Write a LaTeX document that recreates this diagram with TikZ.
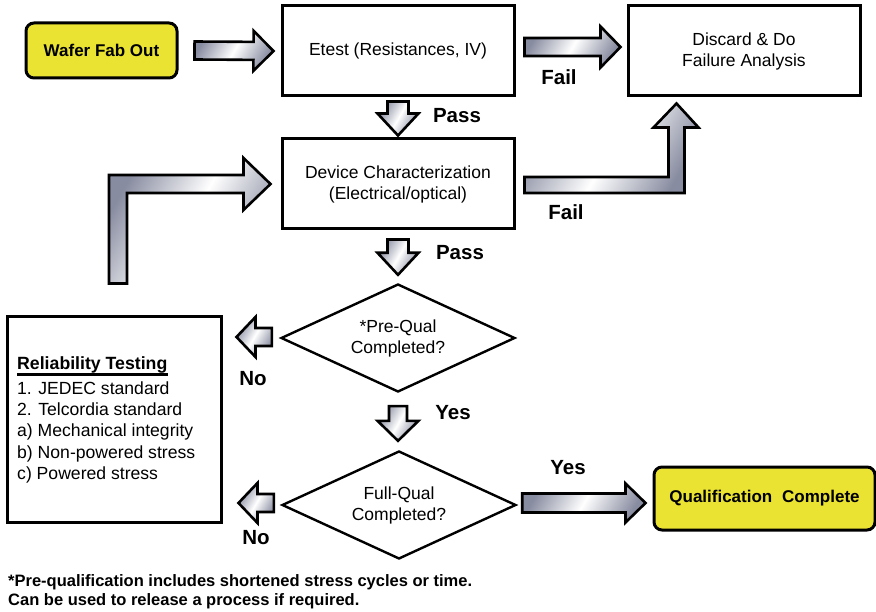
\documentclass[tikz,border=0pt]{standalone}
\usepackage{fontspec}
\setmainfont{Liberation Sans}
\usetikzlibrary{calc,shapes.geometric}

\definecolor{padyellow}{RGB}{234,227,50}
\definecolor{metal}{RGB}{136,140,160}

\tikzset{
  procbox/.style={draw, line width=3pt, minimum width=232pt, minimum height=90pt,
    inner sep=0pt, align=center, font=\fontsize{17.5}{21}\selectfont},
  termbox/.style={draw, line width=3pt, rounded corners=8pt, fill=padyellow,
    inner sep=0pt, align=center, font=\bfseries\fontsize{17}{21}\selectfont},
  decision/.style={draw, diamond, aspect=2.17, line width=2.4pt, minimum width=234pt,
    minimum height=108pt, inner sep=0pt, align=center, font=\fontsize{17.5}{21}\selectfont},
  listbox/.style={draw, line width=3pt, inner sep=0pt},
  listitem/.style={anchor=base west, inner sep=0pt, font=\fontsize{17.6}{21}\selectfont},
  flowlabel/.style={inner sep=0pt, font=\bfseries\fontsize{20.5}{24}\selectfont},
  notetext/.style={anchor=base west, inner sep=0pt, font=\bfseries\fontsize{16.5}{22}\selectfont},
  metalarrow/.style={draw, line width=2.6pt, line join=miter,
    left color=metal, right color=metal, middle color=white, shading angle=60}
}

% straight block arrow: tail, tip, shaft half-width, head half-width, head length
\newcommand\fatarrow[5]{%
  \coordinate (fahead) at ($(#2)!#5!(#1)$);
  \draw[metalarrow] ($(#1)!#3!90:(#2)$) -- ($(fahead)!#3!-90:(#1)$)
    -- ($(fahead)!#4!-90:(#1)$) -- (#2) -- ($(fahead)!#4!90:(#1)$)
    -- ($(fahead)!#3!90:(#1)$) -- ($(#1)!#3!-90:(#2)$) -- cycle;}

\begin{document}
\begin{tikzpicture}[x=1pt, y=-1pt]
  \fill[white] (0,0) rectangle (876,612);
  \useasboundingbox (0,0) rectangle (876,612);

  % process steps
  \node[termbox, minimum width=151pt, minimum height=55pt] (wafer) at (101.5,50.5) {Wafer Fab Out};
  \node[procbox] (etest) at (398,51) {Etest (Resistances, IV)};
  \node[procbox] (discard) at (744,51) {Discard \& Do\\Failure Analysis};
  \node[procbox] (device) at (398,184) {Device Characterization\\(Electrical/optical)};
  \node[decision] (prequal) at (398,338) {*Pre-Qual\\Completed?};
  \node[decision] (fullqual) at (399,505) {Full-Qual\\Completed?};
  \node[termbox, minimum width=221pt, minimum height=63pt] (qual) at (764.5,498.5) {Qualification\hspace{0.3em} Complete};

  % reliability test list
  \node[listbox, minimum width=214pt, minimum height=205pt] (relbox) at (114,419.5) {};
  \node[anchor=base west, inner sep=0pt, font=\bfseries\fontsize{17.7}{21}\selectfont]
    (reltitle) at (17,369.3) {Reliability Testing};
  \draw[line width=3.2pt] ($(reltitle.base west)+(0,5)$) -- ($(reltitle.base east)+(0,5)$);
  \foreach \t [count=\i] in {1. JEDEC standard, 2. Telcordia standard,
      a) Mechanical integrity, b) Non-powered stress, c) Powered stress}
    \node[listitem] (rel\i) at (17,{394.3+21.25*(\i-1)}) {\t};

  % arrow end points
  \coordinate (a1s) at ($(wafer.east)+(16,0)$);
  \coordinate (a1e) at ($(etest.west)+(-7,0)$);
  \coordinate (a2s) at ($(etest.east)+(9,-4)$);
  \coordinate (a2e) at ($(discard.west)+(-6,-4)$);
  \coordinate (p1s) at ($(etest.south)+(0,4)$);
  \coordinate (p1e) at ($(device.north)+(0,-2)$);
  \coordinate (p2s) at ($(device.south)+(0,9)$);
  \coordinate (p2e) at ($(prequal.north)+(0,-8)$);
  \coordinate (ys) at ($(prequal.south)+(0,13)$);
  \coordinate (ye) at ($(prequal.south |- fullqual.north)+(0,-9)$);
  \coordinate (n1s) at ($(prequal.west)+(-8,-1)$);
  \coordinate (n1e) at ($(relbox.east |- n1s)+(14,0)$);
  \coordinate (n2s) at ($(fullqual.west)+(-7,-2)$);
  \coordinate (n2e) at ($(relbox.east |- n2s)+(16,0)$);
  \coordinate (qs) at ($(fullqual.east)+(5,-2)$);
  \coordinate (qe) at ($(qual.west |- qs)+(-7,0)$);

  % straight block arrows
  \fatarrow{a1s}{a1e}{9pt}{20pt}{20pt}
  \fatarrow{a2s}{a2e}{9pt}{20.5pt}{20pt}
  \fatarrow{p1s}{p1e}{10.5pt}{20.5pt}{22pt}
  \fatarrow{p2s}{p2e}{10.5pt}{20.5pt}{22pt}
  \fatarrow{ys}{ye}{9pt}{20.5pt}{20pt}
  \fatarrow{n1s}{n1e}{9pt}{20pt}{19pt}
  \fatarrow{n2s}{n2e}{9pt}{20pt}{19pt}
  \fatarrow{qs}{qe}{9.5pt}{19.5pt}{20pt}

  % device fail: bent arrow up into the discard box
  \coordinate (f2s) at ($(device.east)+(9,1)$);
  \coordinate (f2e) at ($(discard.south west)+(50,6)$);
  \draw[metalarrow] ($(f2s)+(0,-8)$) -- ($(f2e |- f2s)+(-8,-8)$) -- ($(f2e)+(-8,24)$)
    -- ($(f2e)+(-23,24)$) -- (f2e) -- ($(f2e)+(22,24)$) -- ($(f2e)+(8,24)$)
    -- ($(f2e |- f2s)+(8,8)$) -- ($(f2s)+(0,8)$) -- cycle;

  % loop back from reliability testing to device characterization
  \coordinate (ls) at ($(relbox.north)+(4,-32)$);
  \coordinate (le) at ($(device.west)+(-10,0)$);
  \draw[metalarrow] ($(ls)+(-9,0)$) -- ($(ls |- le)+(-9,-9)$) -- ($(le)+(-27,-9)$)
    -- ($(le)+(-27,-26)$) -- (le) -- ($(le)+(-27,26)$) -- ($(le)+(-27,9)$)
    -- ($(ls |- le)+(9,9)$) -- ($(ls)+(9,0)$) -- cycle;

  % arrow labels
  \node[flowlabel] (passA) at (457,116) {Pass};
  \node[flowlabel] (passB) at (460,253) {Pass};
  \node[flowlabel] (failA) at (559,77) {Fail};
  \node[flowlabel] (failB) at (566,212) {Fail};
  \node[flowlabel] (noA) at (253,379) {No};
  \node[flowlabel] (noB) at (256,538) {No};
  \node[flowlabel] (yesA) at (453,413) {Yes};
  \node[flowlabel] (yesB) at (568,468) {Yes};

  % footnote
  \node[notetext] (note1) at (8,586.7) {*Pre-qualification includes shortened stress cycles or time.};
  \node[notetext] (note2) at (8,605.7) {Can be used to release a process if required.};
\end{tikzpicture}
\end{document}
